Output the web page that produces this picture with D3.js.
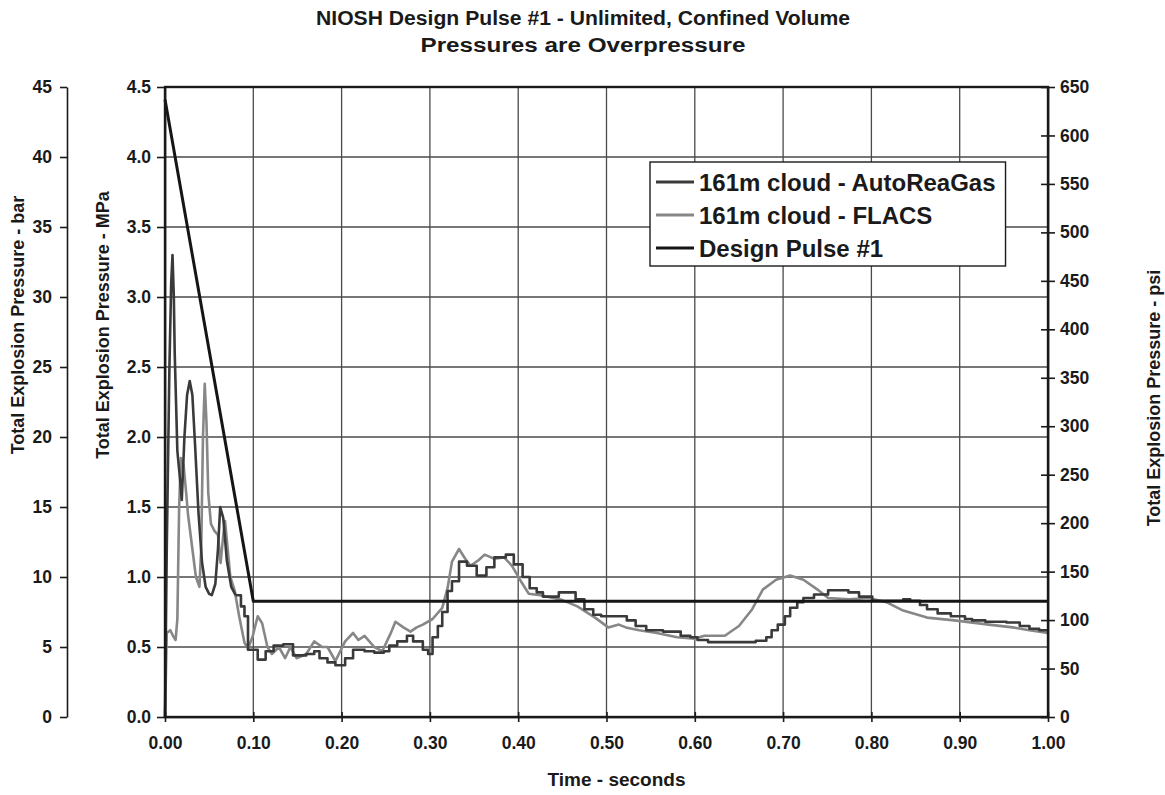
<!DOCTYPE html>
<html lang="en">
<head>
<meta charset="UTF-8">
<title>NIOSH Design Pulse #1</title>
<script src="https://cdn.jsdelivr.net/npm/d3@7"></script>
<style>
  body { margin: 0; background: #fff; }
  text { font-family: "Liberation Sans", Arial, sans-serif; font-weight: bold; fill: #1a1a1a; }
</style>
</head>
<body>
<svg width="1165" height="795" id="mainsvg"></svg>
<script>
// ---- data (time in s, pressure in MPa) ----
const timeTicks = [0, 0.1, 0.2, 0.3, 0.4, 0.5, 0.6, 0.7, 0.8, 0.9, 1.0];
const mpaTicks = [0, 0.5, 1.0, 1.5, 2.0, 2.5, 3.0, 3.5, 4.0, 4.5];
const barTicks = [0, 5, 10, 15, 20, 25, 30, 35, 40, 45];
const psiTicks = [0, 50, 100, 150, 200, 250, 300, 350, 400, 450, 500, 550, 600, 650];

const seriesNames = ["161m cloud - AutoReaGas", "161m cloud - FLACS", "Design Pulse #1"];

// AutoReaGas: smooth start, then stepped output
const autoEarly = [[0,0],[0.001,0.6],[0.002,1.2],[0.005,2.5],[0.007,3.1],[0.0085,3.3],[0.01,3.0],[0.011,2.6],
  [0.014,1.9],[0.017,1.7],[0.019,1.55],[0.022,2.0],[0.025,2.3],[0.028,2.4],[0.031,2.3],[0.034,1.95],
  [0.038,1.45],[0.042,1.1],[0.046,0.93],[0.05,0.88],[0.053,0.87],[0.057,0.95],[0.06,1.2],[0.0625,1.5],
  [0.066,1.42],[0.07,1.12],[0.075,0.93],[0.08,0.87]];
const autoSteps = [[0.08,0.87],[0.086,0.79],[0.09,0.72],[0.094,0.48],[0.105,0.41],[0.114,0.47],[0.123,0.51],
  [0.134,0.52],[0.145,0.44],[0.16,0.45],[0.169,0.47],[0.175,0.42],[0.184,0.39],[0.193,0.37],[0.204,0.42],
  [0.213,0.48],[0.226,0.47],[0.237,0.46],[0.248,0.47],[0.254,0.51],[0.263,0.54],[0.274,0.58],[0.281,0.54],
  [0.292,0.48],[0.298,0.45],[0.303,0.57],[0.309,0.65],[0.314,0.75],[0.32,0.9],[0.325,0.97],[0.333,1.11],
  [0.342,1.08],[0.353,1.01],[0.364,1.07],[0.373,1.14],[0.386,1.16],[0.395,1.09],[0.405,1.0],[0.413,0.92],
  [0.421,0.89],[0.428,0.86],[0.446,0.89],[0.465,0.84],[0.475,0.77],[0.485,0.73],[0.494,0.72],[0.523,0.69],
  [0.533,0.65],[0.545,0.62],[0.564,0.61],[0.584,0.58],[0.595,0.57],[0.603,0.55],[0.615,0.535],[0.669,0.545],
  [0.681,0.57],[0.687,0.62],[0.694,0.66],[0.702,0.72],[0.708,0.78],[0.716,0.82],[0.723,0.85],[0.735,0.875],
  [0.751,0.905],[0.774,0.89],[0.786,0.86],[0.801,0.83],[0.836,0.84],[0.844,0.83],[0.855,0.8],[0.863,0.77],
  [0.875,0.74],[0.89,0.72],[0.906,0.7],[0.914,0.69],[0.929,0.68],[0.953,0.675],[0.968,0.65],[0.979,0.63],
  [0.99,0.62],[1.0,0.62]];

const flacs = [[0,0],[0.002,0.6],[0.006,0.62],[0.009,0.58],[0.012,0.55],[0.014,0.7],[0.016,1.5],[0.018,1.85],
  [0.021,1.8],[0.024,1.6],[0.026,1.45],[0.031,1.2],[0.035,1.0],[0.039,0.93],[0.041,1.2],[0.043,2.0],
  [0.045,2.38],[0.047,2.1],[0.049,1.6],[0.052,1.38],[0.056,1.33],[0.06,1.3],[0.063,1.1],[0.066,1.3],
  [0.068,1.4],[0.071,1.2],[0.074,1.0],[0.079,0.9],[0.084,0.72],[0.09,0.53],[0.094,0.49],[0.099,0.57],
  [0.105,0.72],[0.11,0.67],[0.116,0.5],[0.121,0.45],[0.129,0.5],[0.136,0.42],[0.142,0.5],[0.149,0.42],
  [0.16,0.45],[0.169,0.54],[0.178,0.5],[0.184,0.5],[0.193,0.4],[0.204,0.54],[0.213,0.6],[0.219,0.55],
  [0.226,0.58],[0.237,0.5],[0.246,0.47],[0.255,0.59],[0.261,0.68],[0.27,0.64],[0.278,0.61],[0.285,0.64],
  [0.292,0.66],[0.303,0.7],[0.314,0.78],[0.32,0.92],[0.325,1.11],[0.333,1.2],[0.34,1.13],[0.346,1.08],
  [0.355,1.12],[0.362,1.16],[0.373,1.13],[0.384,1.14],[0.393,1.08],[0.403,0.97],[0.412,0.88],[0.425,0.87],
  [0.448,0.84],[0.467,0.79],[0.487,0.71],[0.502,0.64],[0.514,0.66],[0.522,0.64],[0.537,0.62],[0.557,0.6],
  [0.58,0.57],[0.6,0.56],[0.611,0.58],[0.634,0.58],[0.65,0.65],[0.665,0.77],[0.677,0.91],[0.692,0.98],
  [0.708,1.01],[0.723,0.98],[0.739,0.91],[0.751,0.85],[0.774,0.84],[0.797,0.85],[0.817,0.82],[0.836,0.76],
  [0.863,0.71],[0.894,0.69],[0.933,0.66],[0.96,0.64],[0.979,0.62],[1.0,0.6]];

const designPulse = [[0,4.41],[0.1,0.827],[1.0,0.827]];

// ---- layout ----
const svg = d3.select('#mainsvg');
const plot = { left: 165, right: 1048, top: 87, bottom: 717 };

const x = d3.scaleLinear().domain([0, 1]).range([plot.left, plot.right]);
const yMPa = d3.scaleLinear().domain([0, 4.5]).range([plot.bottom, plot.top]);
const yBar = d3.scaleLinear().domain([0, 45]).range([plot.bottom, plot.top]);
const yPsi = d3.scaleLinear().domain([0, 650]).range([plot.bottom, plot.top]);

// title
svg.append('text').attr('x', 583).attr('y', 25).attr('text-anchor', 'middle')
  .attr('font-size', 20).attr('textLength', 534).attr('lengthAdjust', 'spacingAndGlyphs')
  .text('NIOSH Design Pulse #1 - Unlimited, Confined Volume');
svg.append('text').attr('x', 583).attr('y', 52).attr('text-anchor', 'middle')
  .attr('font-size', 20).attr('textLength', 325).attr('lengthAdjust', 'spacingAndGlyphs')
  .text('Pressures are Overpressure');

// gridlines
const grid = svg.append('g').attr('stroke', '#4a4a4a').attr('stroke-width', 1.3);
grid.selectAll('.vgrid').data(timeTicks.slice(1, -1)).join('line')
  .attr('x1', d => x(d)).attr('x2', d => x(d)).attr('y1', plot.top).attr('y2', plot.bottom);
grid.selectAll('.hgrid').data(mpaTicks.slice(1, -1)).join('line')
  .attr('x1', plot.left).attr('x2', plot.right).attr('y1', d => yMPa(d)).attr('y2', d => yMPa(d));

// series
const line = d3.line().x(d => x(d[0])).y(d => yMPa(d[1]));
const stepLine = d3.line().x(d => x(d[0])).y(d => yMPa(d[1])).curve(d3.curveStepAfter);
const lines = svg.append('g').attr('fill', 'none').attr('stroke-linejoin', 'round');
lines.append('path').datum(flacs).attr('d', line).attr('stroke', '#878787').attr('stroke-width', 2.6);
lines.append('path').datum(autoEarly).attr('d', line).attr('stroke', '#3a3a3a').attr('stroke-width', 2.6);
lines.append('path').datum(autoSteps).attr('d', stepLine).attr('stroke', '#3a3a3a').attr('stroke-width', 2.6);
lines.append('path').datum(designPulse).attr('d', line).attr('stroke', '#151515').attr('stroke-width', 3);

// plot border
svg.append('rect').attr('x', plot.left).attr('y', plot.top)
  .attr('width', plot.right - plot.left).attr('height', plot.bottom - plot.top)
  .attr('fill', 'none').attr('stroke', '#1a1a1a').attr('stroke-width', 2.4);

// axes
function styleAxis(g, size) {
  g.attr('font-family', null).attr('font-size', null);
  g.selectAll('text').attr('font-size', size).attr('fill', '#1a1a1a');
  g.selectAll('line, path').attr('stroke', '#1a1a1a').attr('stroke-width', 1.6);
}
const barAxis = svg.append('g').attr('transform', 'translate(67,0)')
  .call(d3.axisLeft(yBar).tickValues(barTicks).tickSize(7).tickSizeOuter(0).tickPadding(8));
styleAxis(barAxis, 17.5);

const mpaAxis = svg.append('g').attr('transform', `translate(${plot.left},0)`)
  .call(d3.axisLeft(yMPa).tickValues(mpaTicks).tickFormat(d3.format('.1f')).tickSize(8).tickSizeOuter(0).tickPadding(6));
styleAxis(mpaAxis, 17.5);

const psiAxis = svg.append('g').attr('transform', `translate(${plot.right},0)`)
  .call(d3.axisRight(yPsi).tickValues(psiTicks).tickSize(7).tickSizeOuter(0).tickPadding(5));
styleAxis(psiAxis, 17.5);
psiAxis.selectAll('.tick line').attr('x1', -7);

const xAxis = svg.append('g').attr('transform', `translate(0,${plot.bottom})`)
  .call(d3.axisBottom(x).tickValues(timeTicks).tickFormat(d3.format('.2f')).tickSize(5).tickSizeOuter(0).tickPadding(15));
styleAxis(xAxis, 17.5);
xAxis.selectAll('.tick line').attr('y1', -5);

// axis titles
svg.append('text').attr('transform', 'translate(24,325) rotate(-90)').attr('text-anchor', 'middle')
  .attr('font-size', 18).text('Total Explosion Pressure - bar');
svg.append('text').attr('transform', 'translate(109,325) rotate(-90)').attr('text-anchor', 'middle')
  .attr('font-size', 18).text('Total Explosion Pressure - MPa');
svg.append('text').attr('transform', 'translate(1160,398) rotate(-90)').attr('text-anchor', 'middle')
  .attr('font-size', 18).text('Total Explosion Pressure - psi');
svg.append('text').attr('x', x(0.5) + 10).attr('y', 786).attr('text-anchor', 'middle')
  .attr('font-size', 19).text('Time - seconds');

// legend
const legendColors = ['#3a3a3a', '#878787', '#151515'];
const legend = svg.append('g').attr('transform', 'translate(650,162)');
const legendBox = legend.append('rect').attr('fill', '#fff').attr('stroke', '#1a1a1a').attr('stroke-width', 1.4)
  .attr('height', 104);
const rows = legend.selectAll('.lrow').data(seriesNames).join('g')
  .attr('transform', (d, i) => `translate(0,${20 + i * 33})`);
rows.append('line').attr('x1', 6).attr('x2', 44).attr('stroke', (d, i) => legendColors[i]).attr('stroke-width', 3);
rows.append('text').attr('x', 49).attr('dy', '0.36em').attr('font-size', 24).text(d => d);
const maxW = d3.max(rows.selectAll('text').nodes(), n => n.getComputedTextLength());
legendBox.attr('width', 49 + maxW + 10);
</script>
</body>
</html>
